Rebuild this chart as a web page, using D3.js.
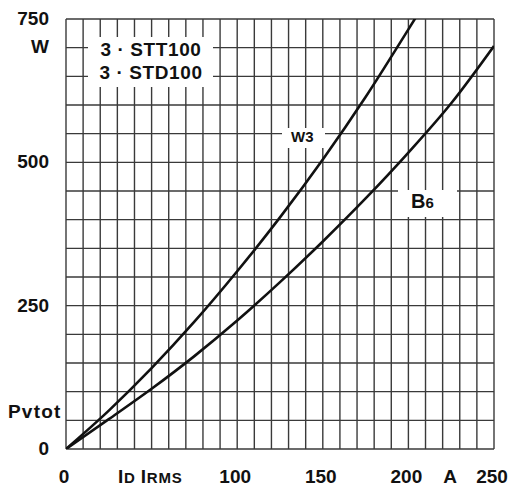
<!DOCTYPE html>
<html>
<head>
<meta charset="utf-8">
<script src="https://cdnjs.cloudflare.com/ajax/libs/d3/7.8.5/d3.min.js"></script>
<style>
  body { margin: 0; background: #fff; }
  text { font-family: "Liberation Sans", Arial, Helvetica, sans-serif; font-weight: bold; fill: #111; }
</style>
</head>
<body>
<svg id="chart" width="512" height="492"></svg>
<script>
// current in A, power loss in W
const w3Current = [0, 25, 50, 75, 100, 125, 150, 175, 200, 210];
const w3Power   = [0, 67, 141, 222, 310, 404, 505, 614, 732, 780];
const b6Current = [0, 25, 50, 75, 100, 125, 150, 175, 200, 225, 250];
const b6Power   = [0, 52, 105, 162, 224, 291, 362, 437, 517, 603, 703];

const yTickLabels = [750, 500, 250, 0];
const xTickLabels = [0, 100, 150, 200, 250];

const svg = d3.select('#chart');

const x = d3.scaleLinear().domain([0, 250]).range([66, 494]);
const y = d3.scaleLinear().domain([0, 750]).range([449, 19]);

const gridColor = '#3a3a3a';

// grid
svg.append('g')
  .selectAll('line')
  .data(d3.range(0, 251, 10))
  .enter().append('line')
  .attr('x1', d => x(d)).attr('x2', d => x(d))
  .attr('y1', y(0)).attr('y2', y(750))
  .attr('stroke', gridColor)
  .attr('stroke-width', 1.4);

svg.append('g')
  .selectAll('line')
  .data(d3.range(0, 751, 50))
  .enter().append('line')
  .attr('x1', x(0)).attr('x2', x(250))
  .attr('y1', d => y(d)).attr('y2', d => y(d))
  .attr('stroke', gridColor)
  .attr('stroke-width', 1.4);

// white label boxes over grid
svg.append('rect').attr('x', 88).attr('y', 37).attr('width', 125).attr('height', 50).attr('fill', '#fff');
svg.append('rect').attr('x', 282).attr('y', 128).attr('width', 43).attr('height', 20).attr('fill', '#fff');
svg.append('rect').attr('x', 398).attr('y', 190).attr('width', 59).attr('height', 27).attr('fill', '#fff');

// curves
svg.append('clipPath').attr('id', 'plot')
  .append('rect').attr('x', x(0)).attr('y', y(750)).attr('width', x(250) - x(0)).attr('height', y(0) - y(750));

const line = d3.line()
  .x(d => x(d[0]))
  .y(d => y(d[1]))
  .curve(d3.curveMonotoneX);

const series = [
  d3.zip(w3Current, w3Power),
  d3.zip(b6Current, b6Power)
];

svg.append('g')
  .attr('clip-path', 'url(#plot)')
  .selectAll('path')
  .data(series)
  .enter().append('path')
  .attr('d', line)
  .attr('fill', 'none')
  .attr('stroke', '#111')
  .attr('stroke-width', 2.6);

// y labels
svg.selectAll('.ylab')
  .data(yTickLabels)
  .enter().append('text')
  .attr('class', 'ylab')
  .attr('x', 49)
  .attr('y', d => y(d) + 6)
  .attr('text-anchor', 'end')
  .style('font-size', '19px')
  .text(d => d);

svg.append('text').attr('x', 49).attr('y', 53).attr('text-anchor', 'end')
  .style('font-size', '19px').text('W');
svg.append('text').attr('x', 8).attr('y', 418)
  .style('font-size', '19px').style('letter-spacing', '1.2px').text('Pvtot');

// x labels
svg.selectAll('.xlab')
  .data(xTickLabels)
  .enter().append('text')
  .attr('class', 'xlab')
  .attr('x', d => x(d) - 2)
  .attr('y', 483)
  .attr('text-anchor', 'middle')
  .style('font-size', '19px')
  .text(d => d);

svg.append('text').attr('x', 450).attr('y', 483).attr('text-anchor', 'middle')
  .style('font-size', '19px').text('A');

const idLabel = svg.append('text').attr('x', 118).attr('y', 483).style('letter-spacing', '0.8px');
idLabel.append('tspan').style('font-size', '19px').text('I');
idLabel.append('tspan').style('font-size', '15px').text('D ');
idLabel.append('tspan').style('font-size', '19px').text('I');
idLabel.append('tspan').style('font-size', '15px').text('RMS');

// device legend
svg.append('text').attr('x', 151).attr('y', 56).attr('text-anchor', 'middle')
  .style('font-size', '19px').style('letter-spacing', '0.6px').text('3 \u00b7 STT100');
svg.append('text').attr('x', 151).attr('y', 79).attr('text-anchor', 'middle')
  .style('font-size', '19px').style('letter-spacing', '0.6px').text('3 \u00b7 STD100');

// curve labels
svg.append('text').attr('x', 291).attr('y', 142)
  .style('font-size', '15px').text('W3');

const b6 = svg.append('text').attr('x', 411).attr('y', 208);
b6.append('tspan').style('font-size', '20px').text('B');
b6.append('tspan').style('font-size', '15px').text('6');
</script>
</body>
</html>
